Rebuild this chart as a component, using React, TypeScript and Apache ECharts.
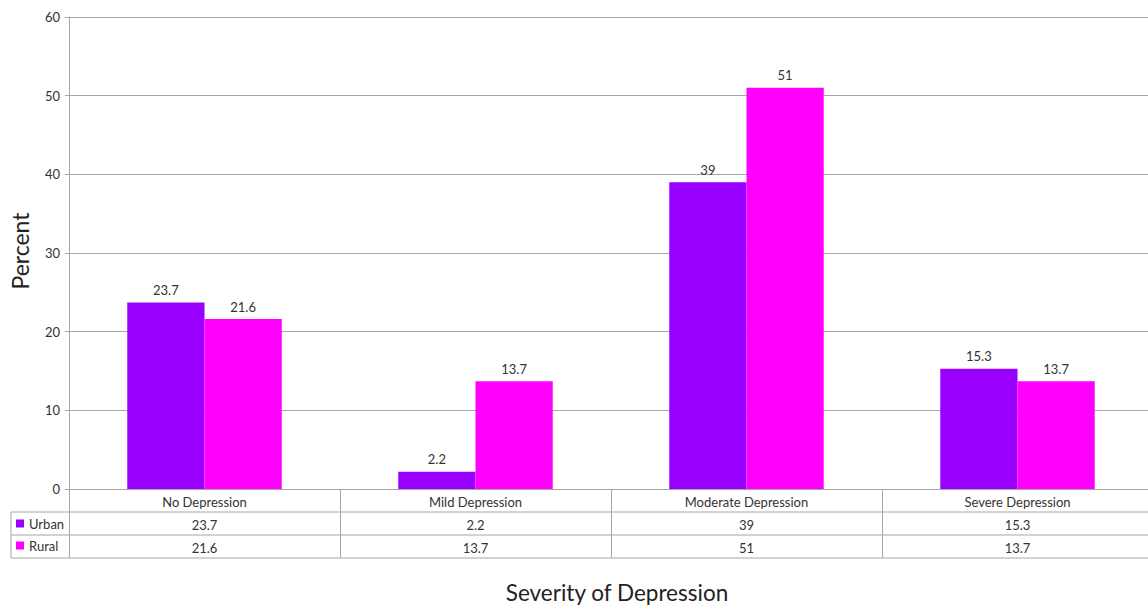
import React, { useEffect, useRef } from "react";
import * as echarts from "echarts";

const categories = ["No Depression", "Mild Depression", "Moderate Depression", "Severe Depression"];
const seriesNames = ["Urban", "Rural"];
const urban = [23.7, 2.2, 39, 15.3];
const rural = [21.6, 13.7, 51, 13.7];
const yMin = 0;
const yMax = 60;
const yStep = 10;
const colors = ["#9900FF", "#FF00FF"];

const FONT = "Lato, 'Open Sans', sans-serif";
const GRID = "#a6a6a6";

export default function App() {
  const ref = useRef<HTMLDivElement>(null);
  useEffect(() => {
    if (!ref.current) return;
    const chart = echarts.init(ref.current, null, { renderer: "svg" });
    const tableLine = (x1: number, y1: number, x2: number, y2: number) => ({
      type: "line",
      shape: { x1, y1, x2, y2 },
      style: { stroke: GRID, lineWidth: 1 },
      silent: true,
    });
    chart.setOption({
      animation: false,
      textStyle: { fontFamily: FONT },
      color: colors,
      grid: { left: 69, top: 17, width: 1084, height: 472, containLabel: false },
      legend: {
        orient: "vertical",
        left: 16,
        top: 517,
        icon: "rect",
        itemWidth: 8,
        itemHeight: 8,
        itemGap: 9,
        data: seriesNames,
        textStyle: { fontSize: 13, color: "#333", fontFamily: FONT, padding: [0, 0, 0, 0] },
        padding: 0,
      },
      xAxis: {
        type: "category",
        data: categories,
        axisLine: { lineStyle: { color: GRID } },
        axisTick: { show: true, length: 69, lineStyle: { color: GRID } },
        axisLabel: {
          margin: 1,
          fontSize: 13,
          lineHeight: 23,
          color: "#333",
          fontFamily: FONT,
          interval: 0,
          formatter: (v: string, i: number) => `${v}\n${urban[i]}\n${rural[i]}`,
        },
      },
      yAxis: {
        type: "value",
        min: yMin,
        max: yMax,
        interval: yStep,
        axisLine: { show: true, lineStyle: { color: GRID } },
        axisTick: { show: true, length: 4, lineStyle: { color: GRID } },
        axisLabel: { fontSize: 13, color: "#333", margin: 9, fontFamily: FONT },
        splitLine: { lineStyle: { color: GRID } },
      },
      series: [
        {
          name: seriesNames[0],
          type: "bar",
          data: urban,
          barGap: "0%",
          barCategoryGap: "43%",
          itemStyle: { color: colors[0] },
          label: { show: true, position: "top", distance: 6, fontSize: 13, color: "#333", fontFamily: FONT },
        },
        {
          name: seriesNames[1],
          type: "bar",
          data: rural,
          itemStyle: { color: colors[1] },
          label: { show: true, position: "top", distance: 6, fontSize: 13, color: "#333", fontFamily: FONT },
        },
      ],
      graphic: [
        tableLine(11, 512, 1160, 512),
        tableLine(11, 535, 1160, 535),
        tableLine(11, 558, 1160, 558),
        tableLine(11, 512, 11, 558),
        {
          type: "text",
          x: 20,
          y: 251,
          rotation: Math.PI / 2,
          style: { text: "Percent", fontSize: 23, fontFamily: FONT, fill: "#222", align: "center", verticalAlign: "middle" },
        },
        {
          type: "text",
          x: 617,
          y: 592,
          style: { text: "Severity of Depression", fontSize: 22.5, fontFamily: FONT, fill: "#222", align: "center", verticalAlign: "middle" },
        },
      ],
    });
    return () => chart.dispose();
  }, []);
  return (
    <div style={{ position: "fixed", left: 0, top: 0, width: 1148, height: 605, overflow: "hidden", background: "#fff" }}>
      <div ref={ref} style={{ width: 1170, height: 605 }} />
    </div>
  );
}
